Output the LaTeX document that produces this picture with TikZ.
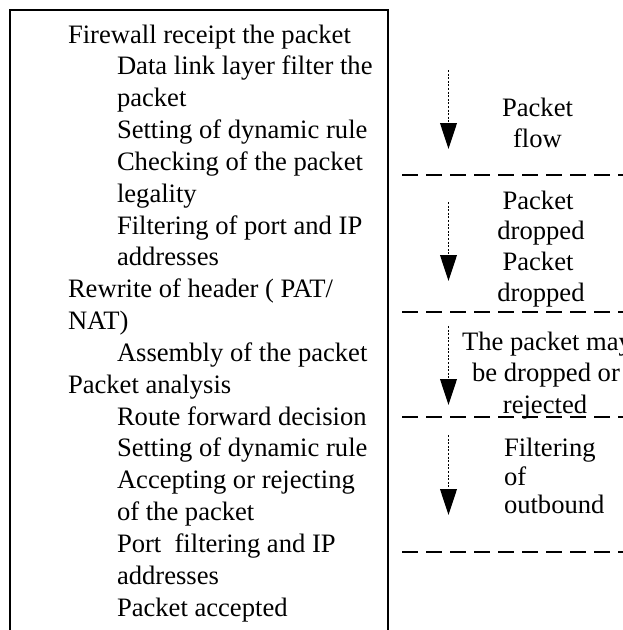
\documentclass[tikz,border=0pt]{standalone}
\usepackage{fontspec}
\setmainfont{Liberation Serif}
\usetikzlibrary{arrows.meta}
\begin{document}
\begin{tikzpicture}[x=1pt,y=-1pt,
  txt/.style={inner sep=0pt, outer sep=0pt, font=\fontsize{26.6}{31.8}\selectfont},
  lt/.style={txt, anchor=base west},
  ct/.style={txt, anchor=base},
  sep/.style={line width=1.5pt, dash pattern=on 15.5pt off 8.5pt},
  flow/.style={line width=1.6pt, dash pattern=on 2pt off 1.6pt, -{Triangle[width=16.7pt,length=26pt]}},
  frame/.style={line width=1.7pt}]
\clip (0,0) rectangle (623,630);
\fill[white] (0,0) rectangle (623,630);
% frame
\draw[frame] (10,650) -- (10,10) -- (388,10) -- (388,650);
% left column text
\node[lt] (l1)  at (68,43)    {Firewall receipt the packet};
\node[lt] (l2)  at (117,74.8) {Data link layer filter the};
\node[lt] (l3)  at (117,106.7){packet};
\node[lt] (l4)  at (117,138.5){Setting of dynamic rule};
\node[lt] (l5)  at (117,170.3){Checking of the packet};
\node[lt] (l6)  at (117,202.2){legality};
\node[lt] (l7)  at (117,234)  {Filtering of port and IP};
\node[lt] (l8)  at (117,265.8){addresses};
\node[lt] (l9)  at (68,297.6) {Rewrite of header ( PAT/};
\node[lt] (l10) at (68,329.5) {NAT)};
\node[lt] (l11) at (117,361.3){Assembly of the packet};
\node[lt] (l12) at (68,393.1) {Packet analysis};
\node[lt] (l13) at (117,425)  {Route forward decision};
\node[lt] (l14) at (117,456.8){Setting of dynamic rule};
\node[lt] (l15) at (117,488.6){Accepting or rejecting};
\node[lt] (l16) at (117,520.4){of the packet};
\node[lt] (l17) at (117,552.3){Port\ \ filtering and IP};
\node[lt] (l18) at (117,584.1){addresses};
\node[lt] (l19) at (117,616)  {Packet accepted};
% separators
\coordinate (d1a) at (402,175);   \coordinate (d1b) at (640,175);
\coordinate (d2a) at (402,312);   \coordinate (d2b) at (640,312);
\coordinate (d3a) at (402,417);   \coordinate (d3b) at (640,417);
\coordinate (d4a) at (402,552);   \coordinate (d4b) at (640,552);
\draw[sep] (d1a) -- (d1b);
\draw[sep] (d2a) -- (d2b);
\draw[sep] (d3a) -- (d3b);
\draw[sep] (d4a) -- (d4b);
% arrows
\coordinate (a1s) at (448.5,70);  \coordinate (a1e) at (448.5,149);
\coordinate (a2s) at (448.5,202); \coordinate (a2e) at (448.5,281);
\coordinate (a3s) at (448.5,326); \coordinate (a3e) at (448.5,405);
\coordinate (a4s) at (448.5,435); \coordinate (a4e) at (448.5,515);
\draw[flow] (a1s) -- (a1e);
\draw[flow] (a2s) -- (a2e);
\draw[flow] (a3s) -- (a3e);
\draw[flow] (a4s) -- (a4e);
% right labels
\node[ct] (r1)  at (537.5,116.7) {Packet};
\node[ct] (r2)  at (537.5,147.3) {flow};
\node[ct] (r3)  at (538,209.3) {Packet};
\node[ct] (r4)  at (541,239.5) {dropped};
\node[ct] (r5)  at (538,270.3) {Packet};
\node[ct] (r6)  at (541,301) {dropped};
\node[ct] (r7)  at (547,350) {The packet may};
\node[ct] (r8)  at (546,381.5) {be dropped or};
\node[ct] (r9)  at (545,413) {rejected};
\node[lt] (r10) at (504,456.7) {Filtering};
\node[lt] (r11) at (504,485) {of};
\node[lt] (r12) at (504,513.5) {outbound};
\end{tikzpicture}
\end{document}
